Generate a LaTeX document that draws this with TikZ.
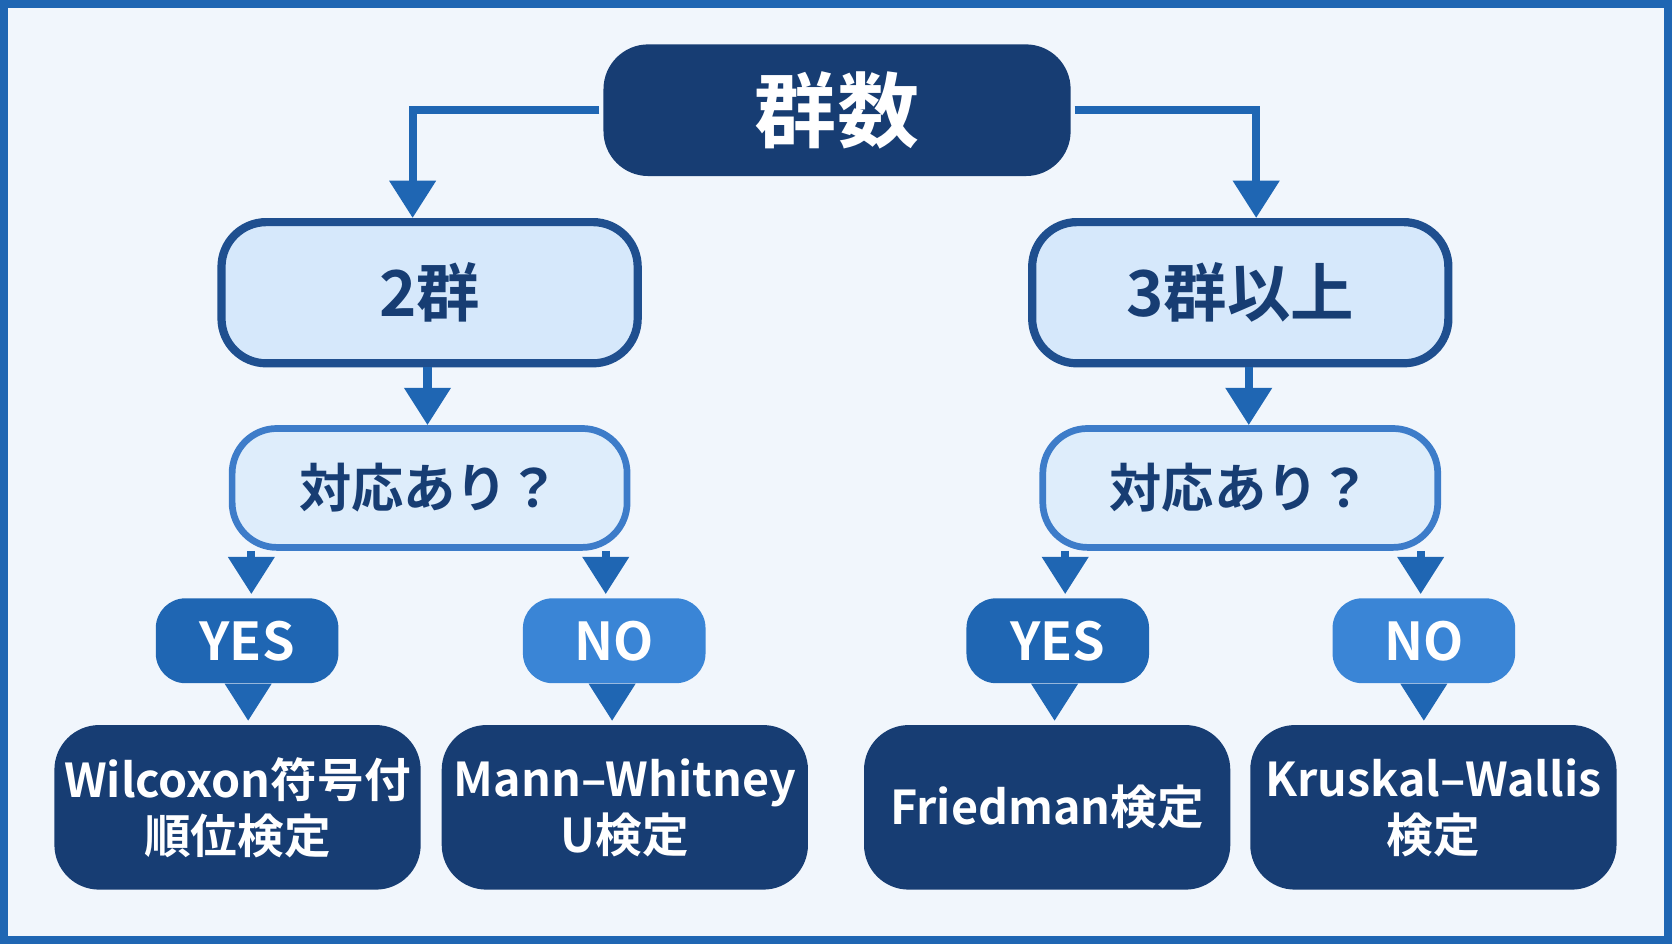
\documentclass[tikz,border=0pt]{standalone}
\usepackage{fontspec}
\setmainfont{Noto Sans CJK JP}[BoldFont={Noto Sans CJK JP Bold}]
\usetikzlibrary{arrows.meta}
\definecolor{navy}{HTML}{173D73}
\definecolor{lightbox}{HTML}{D6E8FB}
\definecolor{lighterbox}{HTML}{DEEDFB}
\definecolor{edgeblue}{HTML}{1F4F8F}
\definecolor{midblue}{HTML}{3D7CC9}
\definecolor{yesblue}{HTML}{1F66B3}
\definecolor{noblue}{HTML}{3A85D6}
\definecolor{bgblue}{HTML}{F1F6FC}
\begin{document}
\begin{tikzpicture}[x=0.01cm, y=-0.01cm, every node/.style={rounded corners=12pt, font=\bfseries, align=center, inner sep=0pt},
    dark/.style={fill=navy, text=white, minimum width=3.45cm, minimum height=1.55cm, font=\bfseries\fontsize{12.5}{15}\selectfont},
    group/.style={draw=edgeblue, line width=2.2pt, fill=lightbox, text=navy, minimum width=3.92cm, minimum height=1.33cm, font=\bfseries\fontsize{17}{20}\selectfont},
    pair/.style={draw=midblue, line width=1.8pt, fill=lighterbox, text=navy, minimum width=3.72cm, minimum height=1.12cm, font=\bfseries\fontsize{14}{17}\selectfont},
    yes/.style={fill=yesblue, text=white, minimum width=1.72cm, minimum height=0.8cm, rounded corners=8pt, font=\bfseries\fontsize{14}{17}\selectfont},
    no/.style={yes, fill=noblue},
    every path/.style={draw=yesblue, line width=2.2pt, -{Triangle[width=12pt, length=10pt]}}]

        \fill[bgblue, draw=none, -] (0,0) rectangle (1568,882);
        \useasboundingbox (0,0) rectangle (1568,882);

        \node[fill=navy, text=white, minimum width=4.4cm, minimum height=1.24cm, font=\bfseries\fontsize{22}{26}\selectfont] (top) at (785,100) {群数};

        \node[group] (two) at (401,272) {2群};
        \node[group] (three) at (1165,272) {3群以上};

        \node[pair] (pairL) at (401,456) {対応あり？};
        \node[pair] (pairR) at (1165,456) {対応あり？};

        \node[yes] (yesL) at (229,600) {YES};
        \node[no] (noL) at (575,600) {NO};
        \node[yes] (yesR) at (993,600) {YES};
        \node[no] (noR) at (1338,600) {NO};

        \node[dark] (wil) at (220,757) {Wilcoxon符号付\\順位検定};
        \node[dark] (mann) at (585,757) {Mann–Whitney\\U検定};
        \node[dark] (fried) at (983,757) {Friedman検定};
        \node[dark] (krus) at (1347,757) {Kruskal–Wallis\\検定};

        \draw (top.west) -| (two.north -| 385,0);
        \draw (top.east) -| (three.north -| 1180,0);
        \draw (two.south -| 399,0) -- (pairL.north -| 399,0);
        \draw (three.south -| 1173,0) -- (pairR.north -| 1173,0);
        \draw (pairL.south -| 233,0) -- (yesL.north -| 233,0);
        \draw (pairL.south -| 567,0) -- (noL.north -| 567,0);
        \draw (pairR.south -| 1000,0) -- (yesR.north -| 1000,0);
        \draw (pairR.south -| 1335,0) -- (noR.north -| 1335,0);
        \draw (yesL.south -| 230,0) -- (wil.north -| 230,0);
        \draw (noL.south -| 573,0) -- (mann.north -| 573,0);
        \draw (yesR.south -| 990,0) -- (fried.north -| 990,0);
        \draw (noR.south -| 1338,0) -- (krus.north -| 1338,0);

\end{tikzpicture}
\end{document}
